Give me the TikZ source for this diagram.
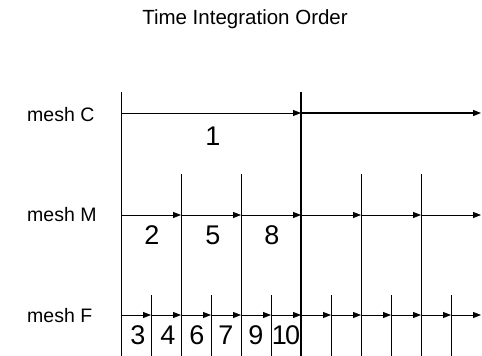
\documentclass[tikz,border=0pt]{standalone}
\usepackage{fontspec}
\setmainfont{Liberation Sans}
\usetikzlibrary{arrows.meta}
\tikzset{
  steparrow/.style={-{Triangle[length=8pt,width=6pt]},line width=0.8pt},
  tickline/.style={line width=0.7pt},
  lbl/.style={font=\fontsize{19.5}{22}\selectfont,inner sep=0pt},
  num/.style={font=\fontsize{27}{30}\selectfont,inner sep=0pt},
}
\begin{document}
\begin{tikzpicture}[x=1pt,y=-1pt]
  \useasboundingbox (0,0) rectangle (482,356);
  \node[lbl,font=\fontsize{20.5}{24}\selectfont] (title) at (245,19) {Time Integration Order};
  % nombres de las mallas
  \node[lbl,anchor=base west] (meshC) at (27,121) {mesh C};
  \node[lbl,anchor=base west] (meshM) at (27,221) {mesh M};
  \node[lbl,anchor=base west] (meshF) at (27,322) {mesh F};
  % puntos de tiempo de cada malla
  \foreach \i in {0,1,2} \coordinate (c\i) at ({121+180*\i},113);
  \foreach \i in {0,...,6} \coordinate (m\i) at ({121+60*\i},215);
  \foreach \i in {0,...,12} \coordinate (f\i) at ({121+30*\i},315);
  % lineas verticales
  \draw[tickline] (121,92) -- (121,356);
  \draw[line width=1.3pt] (301,92) -- (301,356);
  \foreach \x in {181,241,361,421}{
    \draw[tickline] (\x,174) -- (\x,356);
  }
  \foreach \x in {151,211,271,331,391,451}{
    \draw[tickline] (\x,295) -- (\x,356);
  }
  % pasos de tiempo
  \draw[steparrow] (c0) -- (c1);
  \draw[steparrow,line width=1.2pt] (c1) -- (c2);
  \foreach \j [remember=\j as \i (initially 0)] in {1,...,6}{
    \draw[steparrow] (m\i) -- (m\j);
  }
  \foreach \j [remember=\j as \i (initially 0)] in {1,...,12}{
    \draw[steparrow] (f\i) -- (f\j);
  }
  % orden de integracion
  \node[num] (n1) at (213,136) {1};
  \node[num] (n2) at (152,235) {2};
  \node[num] (n5) at (213,235) {5};
  \node[num] (n8) at (272,235) {8};
  \node[num] (n3) at (138,335) {3};
  \node[num] (n4) at (168,335) {4};
  \node[num] (n6) at (197,335) {6};
  \node[num] (n7) at (226,335) {7};
  \node[num] (n9) at (256,335) {9};
  \node[num] (n10) at (286,335) {1\kern-2pt0};
\end{tikzpicture}
\end{document}
